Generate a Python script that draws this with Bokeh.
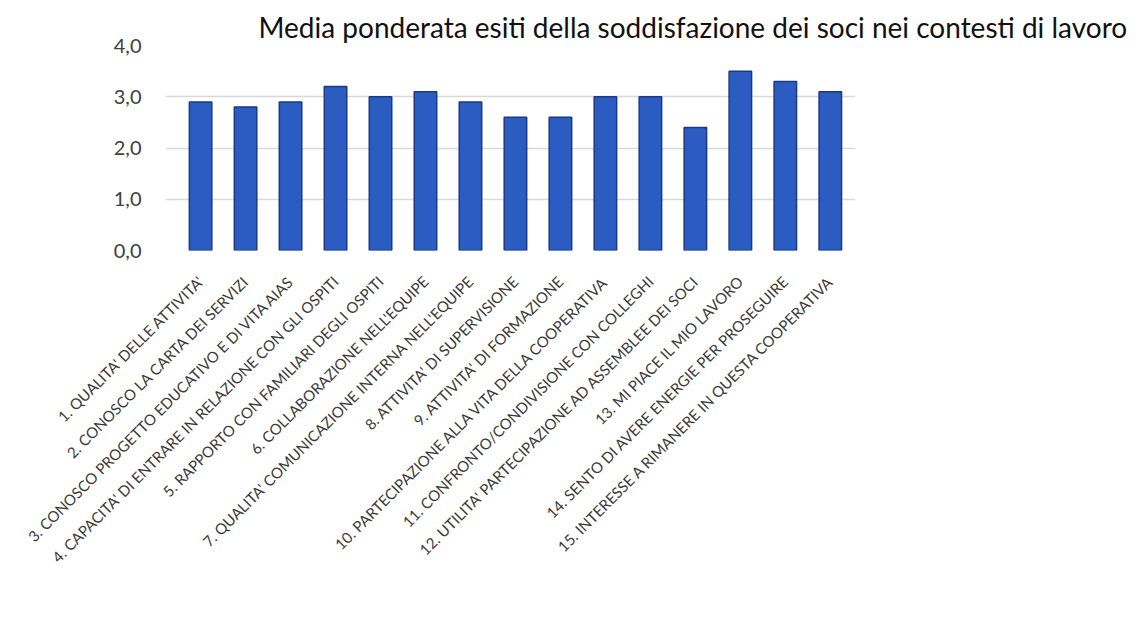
import math
from bokeh.plotting import figure
from bokeh.models import FixedTicker, Range1d, Title
from bokeh.embed import file_html
from bokeh.resources import INLINE

categories = [
    "1. QUALITA' DELLE ATTIVITA'",
    "2. CONOSCO LA CARTA DEI SERVIZI",
    "3. CONOSCO PROGETTO EDUCATIVO E DI VITA AIAS",
    "4. CAPACITA' DI ENTRARE IN RELAZIONE CON GLI OSPITI",
    "5. RAPPORTO CON FAMILIARI DEGLI OSPITI",
    "6. COLLABORAZIONE NELL'EQUIPE",
    "7. QUALITA' COMUNICAZIONE INTERNA NELL'EQUIPE",
    "8. ATTIVITA' DI SUPERVISIONE",
    "9. ATTIVITA' DI FORMAZIONE",
    "10. PARTECIPAZIONE ALLA VITA DELLA COOPERATIVA",
    "11. CONFRONTO/CONDIVISIONE CON COLLEGHI",
    "12. UTILITA' PARTECIPAZIONE AD ASSEMBLEE DEI SOCI",
    "13. MI PIACE IL MIO LAVORO",
    "14. SENTO DI AVERE ENERGIE PER PROSEGUIRE",
    "15. INTERESSE A RIMANERE IN QUESTA COOPERATIVA",
]
values = [2.9, 2.8, 2.9, 3.2, 3.0, 3.1, 2.9, 2.6, 2.6, 3.0, 3.0, 2.4, 3.5, 3.3, 3.1]
positions = list(range(1, len(categories) + 1))
y_ticks = [0, 1, 2, 3, 4]
y_tick_labels = ["0,0", "1,0", "2,0", "3,0", "4,0"]
title_text = "Media ponderata esiti della soddisfazione dei soci nei contesti di lavoro"

p = figure(width=1138, height=627, output_backend="svg", toolbar_location=None,
           x_range=Range1d(0.22, 15.56), y_range=Range1d(0, 4),
           min_border_left=165, min_border_right=283, min_border_top=45,
           min_border_bottom=377)

t = Title(text=title_text, align="left", offset=93, text_font="Lato",
          text_font_size="28px", text_font_style="normal", text_color="#111111",
          standoff=4)
p.add_layout(t, "above")

p.vbar(x=positions, top=values, width=0.5, fill_color="#2B5CC2",
       line_color="#1A3A85", line_width=1.5)

p.outline_line_color = None
p.background_fill_color = "white"
p.border_fill_color = "white"
p.xgrid.visible = False
p.ygrid.grid_line_color = "#D9D9D9"
p.ygrid.grid_line_width = 1.5

p.yaxis.ticker = FixedTicker(ticks=y_ticks)
p.yaxis.major_label_overrides = {float(k): v for k, v in zip(y_ticks, y_tick_labels)}
p.yaxis.axis_line_color = None
p.yaxis.major_tick_line_color = None
p.yaxis.minor_tick_line_color = None
p.yaxis.major_label_text_font = "Lato"
p.yaxis.major_label_text_font_size = "20px"
p.yaxis.major_label_text_color = "#404040"
p.yaxis.major_label_standoff = 18

p.xaxis.ticker = FixedTicker(ticks=positions)
p.xaxis.major_label_overrides = {float(k): v for k, v in zip(positions, categories)}
p.xaxis.major_label_orientation = math.pi / 4
p.xaxis.axis_line_color = None
p.xaxis.major_tick_line_color = None
p.xaxis.minor_tick_line_color = None
p.xaxis.major_label_text_font = "Lato"
p.xaxis.major_label_text_font_size = "15px"
p.xaxis.major_label_text_color = "#3A3A3A"
p.xaxis.major_label_standoff = 22

open("out.html", "w").write(file_html(p, INLINE))
